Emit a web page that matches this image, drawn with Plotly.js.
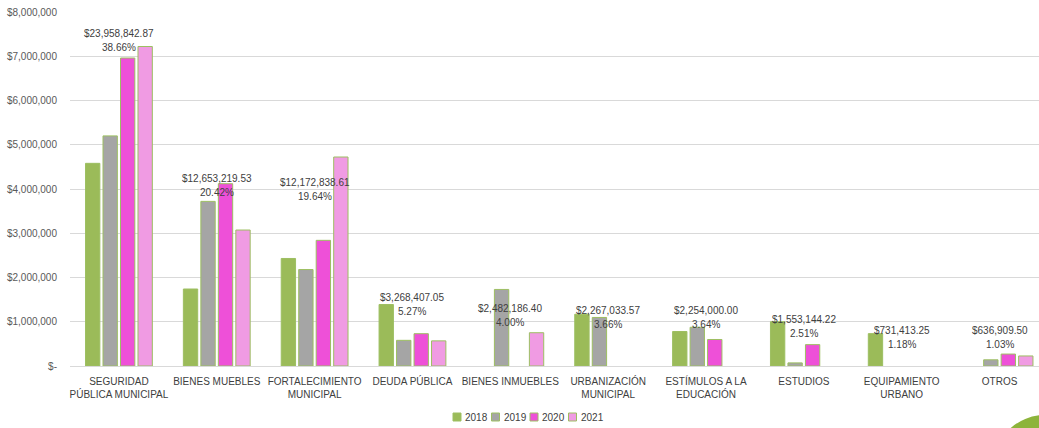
<!DOCTYPE html>
<html>
<head>
<meta charset="utf-8">
<script src="https://cdn.plot.ly/plotly-3.0.1.min.js"></script>
<style>html,body{margin:0;padding:0;background:#fff;}#chart{width:1039px;height:428px;}</style>
</head>
<body>
<div id="chart"></div>
<script>
const categories = ["SEGURIDAD<br>PÚBLICA MUNICIPAL","BIENES MUEBLES","FORTALECIMIENTO<br>MUNICIPAL","DEUDA PÚBLICA","BIENES INMUEBLES","URBANIZACIÓN<br>MUNICIPAL","ESTÍMULOS A LA<br>EDUCACIÓN","ESTUDIOS","EQUIPAMIENTO<br>URBANO","OTROS"];
const years = ["2018","2019","2020","2021"];
const v2018 = [4580000,1740000,2430000,1390000,null,1170000,780000,1000000,731413,null];
const v2019 = [5200000,3720000,2180000,580000,1730000,1097000,875000,70000,null,140000];
const v2020 = [6960000,4120000,2840000,730000,null,null,599000,483000,null,270000];
const v2021 = [7220000,3073000,4723000,568000,752000,null,null,null,null,227000];
const totals = ["$23,958,842.87","$12,653,219.53","$12,172,838.61","$3,268,407.05","$2,482,186.40","$2,267,033.57","$2,254,000.00","$1,553,144.22","$731,413.25","$636,909.50"];
const percents = ["38.66%","20.42%","19.64%","5.27%","4.00%","3.66%","3.64%","2.51%","1.18%","1.03%"];
const labelY = [7345000,4090000,3980000,1400000,1150000,1107000,1107000,893000,644000,644000];
const tickVals = [0,1000000,2000000,3000000,4000000,5000000,6000000,7000000,8000000];
const tickText = ["$-","$1,000,000","$2,000,000","$3,000,000","$4,000,000","$5,000,000","$6,000,000","$7,000,000","$8,000,000"];

const colors = ["#9BBB59","#A5A5A5","#EE50D8","#F09BE3"];
const series = [v2018,v2019,v2020,v2021];
const idx = categories.map((c,i)=>i);

const traces = series.map((vals,k)=>({
  type:"bar", name: years[k], x: idx, y: vals,
  marker:{color: colors[k], line:{color:"#9DBF62", width:1}},
  hoverinfo:"y", showlegend:false
}));

const ann = [];
const font = {family:"Liberation Sans, Arial", size:10, color:"#404040"};
idx.forEach(i=>{
  ann.push({x:i, y:labelY[i], xref:"x", yref:"y", text: totals[i], showarrow:false, yanchor:"middle", yshift:7, font});
  ann.push({x:i, y:labelY[i], xref:"x", yref:"y", text: percents[i], showarrow:false, yanchor:"middle", yshift:-7, font});
});

// custom legend (pixel -> paper conversion)
const L = 70, W = 969, B = 366, H = 354;
const px = x => (x - L) / W;
const py = y => (B - y) / H;
const shapes = [];
years.forEach((yr,k)=>{
  const x0 = 453 + k*38.5;
  shapes.push({type:"rect", xref:"paper", yref:"paper", x0:px(x0), x1:px(x0+8), y0:py(421), y1:py(413),
    fillcolor: colors[k], line:{color:"#9DBF62", width:1}});
  ann.push({xref:"paper", yref:"paper", x:px(x0+10), y:py(417), xanchor:"left", yanchor:"middle",
    text: yr, showarrow:false, font});
});
shapes.push({type:"circle", xref:"paper", yref:"paper", x0:px(993.3), x1:px(1096.7), y0:py(518.4), y1:py(415),
  fillcolor:"#8DB43B", line:{width:0}, layer:"above"});

const layout = {
  width:1039, height:428,
  margin:{l:70, r:0, t:12, b:62, autoexpand:false},
  paper_bgcolor:"#fff", plot_bgcolor:"#fff",
  barmode:"group", bargap:0.285, bargroupgap:0.18,
  font:{family:"Liberation Sans, Arial", size:10, color:"#595959"},
  xaxis:{tickmode:"array", tickvals: idx, ticktext: categories, range:[-0.5,9.403],
    showgrid:false, zeroline:false, showline:false, ticks:"", automargin:false, ticklabelstandoff:8,
    tickfont:{size:10, color:"#404040"}},
  yaxis:{range:[0,8000000], tickmode:"array", tickvals: tickVals, ticktext: tickText, automargin:false,
    showgrid:true, gridcolor:"#D9D9D9", gridwidth:1, zeroline:true, zerolinecolor:"#D9D9D9", zerolinewidth:1,
    showline:false, ticks:"", ticklabelstandoff:12, tickfont:{size:10, color:"#595959"}},
  showlegend:false,
  annotations: ann,
  shapes: shapes
};

Plotly.newPlot("chart", traces, layout, {displayModeBar:false, staticPlot:true});
</script>
</body>
</html>
